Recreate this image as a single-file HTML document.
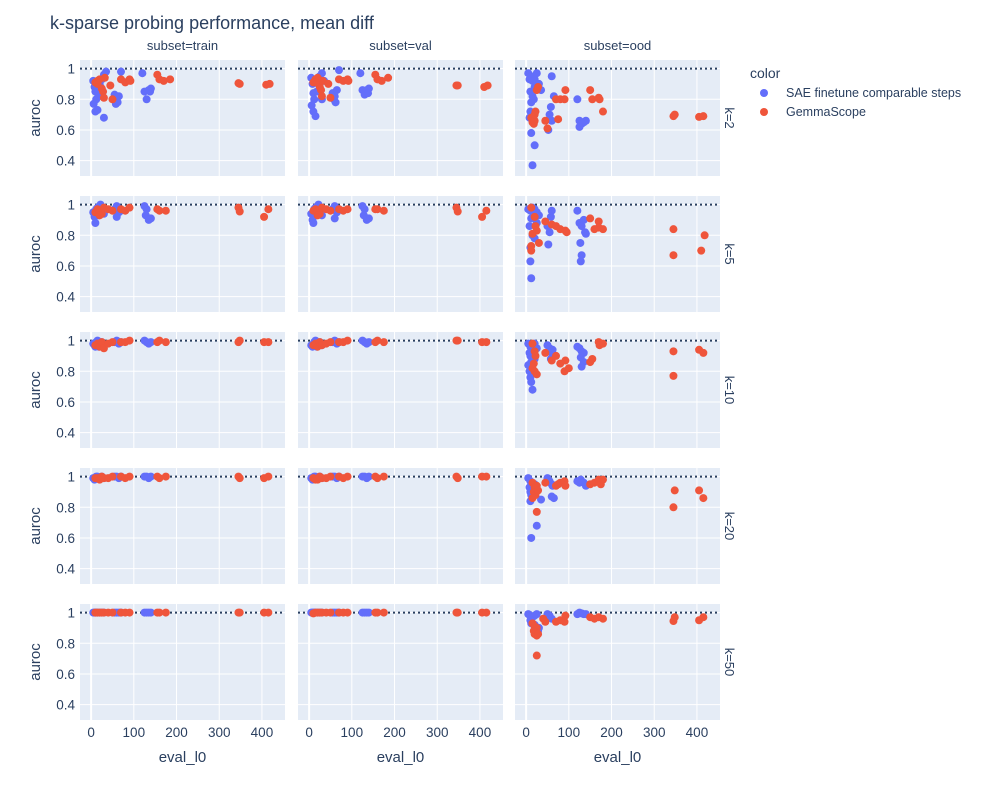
<!DOCTYPE html>
<html><head><meta charset="utf-8"><style>
body{margin:0;background:#fff;font-family:"Liberation Sans",Arial,sans-serif}
svg text{font-family:"Liberation Sans",Arial,sans-serif;fill:#2a3f5f}
</style></head><body>
<svg id="chart" width="1000" height="800" xmlns="http://www.w3.org/2000/svg">
<text x="50" y="29" font-size="18">k-sparse probing performance, mean diff</text>
<text x="750" y="78" font-size="14">color</text>
<g><circle cx="764" cy="93" r="4" fill="#636efa"/><text x="786" y="97" font-size="12.5">SAE finetune comparable steps</text></g>
<g><circle cx="764" cy="112" r="4" fill="#EF553B"/><text x="786" y="116" font-size="12.5">GemmaScope</text></g>
</svg>
<script>
const subsets=["train","val","ood"];
const kValues=[2,5,10,20,50];
const xTicks=[0,100,200,300,400];
const yTicks=[0.4,0.6,0.8,1];
const refLine=1;
// data: [row][col] = [[eval_l0, auroc],...]
const saeTrainK2=[[5,.92],[8,.88],[10,.85],[12,.80],[6,.77],[10,.72],[15,.73],[20,.9],[25,.93],[30,.96],[35,.98],[30,.68],[55,.83],[60,.80],[62,.78],[65,.82],[58,.77],[70,.98],[120,.97],[125,.85],[130,.80],[135,.86],[140,.87],[138,.85],[18,.82],[22,.88]];
const gsTrainK2=[[10,.91],[15,.92],[20,.93],[25,.87],[28,.85],[30,.81],[32,.94],[45,.89],[50,.80],[70,.93],[80,.91],[90,.93],[92,.92],[155,.96],[160,.93],[170,.92],[185,.93],[345,.905],[348,.90],[410,.895],[418,.90],[15,.90]];
const saeValK2=[[5,.94],[8,.90],[10,.84],[12,.80],[6,.76],[10,.72],[15,.69],[20,.92],[25,.95],[30,.97],[35,.92],[30,.80],[55,.84],[60,.82],[62,.78],[65,.86],[58,.80],[70,.99],[120,.97],[125,.86],[130,.83],[135,.86],[140,.87],[138,.84],[18,.85],[22,.90]];
const gsValK2=[[10,.91],[15,.93],[20,.94],[25,.88],[28,.86],[30,.82],[32,.92],[45,.90],[50,.81],[70,.93],[80,.92],[90,.93],[92,.92],[155,.96],[160,.93],[170,.92],[185,.94],[345,.89],[348,.89],[410,.88],[418,.89],[15,.91]];
const saeOodK2=[[5,.97],[8,.93],[12,.95],[15,.92],[20,.93],[10,.85],[15,.82],[12,.78],[18,.80],[10,.72],[8,.68],[12,.58],[20,.50],[15,.37],[30,.90],[35,.86],[60,.95],[65,.82],[58,.75],[55,.70],[60,.66],[52,.60],[120,.80],[125,.66],[130,.64],[135,.65],[140,.66],[125,.62],[20,.88],[25,.97]];
const gsOodK2=[[12,.68],[15,.65],[18,.64],[20,.66],[22,.72],[25,.86],[28,.88],[45,.66],[50,.61],[70,.80],[80,.80],[90,.80],[92,.86],[75,.67],[150,.86],[155,.80],[170,.81],[172,.80],[180,.72],[345,.69],[348,.70],[405,.685],[415,.69],[20,.70]];
const saeTrainK5=[[5,.95],[8,.92],[10,.88],[12,.97],[15,.98],[20,.99],[25,.96],[30,.94],[55,.97],[60,.99],[65,.95],[70,.96],[60,.92],[125,.99],[130,.97],[135,.90],[140,.91],[128,.93],[18,.93],[22,1.0]];
const gsTrainK5=[[10,.95],[15,.97],[20,.96],[25,.94],[30,.98],[40,.97],[50,.96],[70,.97],[80,.96],[90,.98],[155,.97],[160,.96],[175,.96],[345,.98],[348,.955],[405,.92],[415,.97],[20,.93]];
const saeValK5=[[5,.94],[8,.90],[10,.88],[12,.97],[15,.98],[20,.99],[25,.96],[30,.93],[55,.97],[60,.99],[65,.95],[70,.97],[60,.91],[125,.99],[130,.97],[135,.90],[140,.91],[128,.93],[18,.95],[22,1.0]];
const gsValK5=[[10,.96],[15,.97],[20,.96],[25,.94],[30,.98],[40,.97],[50,.96],[70,.97],[80,.96],[90,.97],[155,.97],[160,.97],[175,.96],[345,.98],[348,.955],[405,.92],[415,.96],[20,.93]];
const saeOodK5=[[5,.97],[10,.96],[15,.98],[20,.97],[25,.95],[12,.91],[8,.86],[15,.80],[20,.78],[10,.72],[10,.63],[12,.52],[30,.93],[50,.86],[55,.82],[52,.74],[58,.92],[60,.96],[120,.96],[125,.88],[130,.86],[135,.90],[138,.82],[140,.81],[127,.75],[130,.67],[128,.63],[25,.88]];
const gsOodK5=[[12,.98],[20,.92],[22,.86],[15,.81],[25,.83],[30,.75],[12,.73],[12,.70],[45,.89],[60,.87],[70,.86],[80,.84],[92,.83],[95,.82],[150,.91],[170,.89],[170,.85],[160,.84],[180,.84],[345,.84],[345,.67],[410,.70],[418,.80]];
const saeTrainK10=[[5,.98],[8,.97],[10,.96],[12,.99],[15,1],[20,.98],[25,.99],[30,.97],[55,.99],[60,1],[65,.98],[70,.99],[125,1],[130,.99],[135,.98],[140,.99],[18,.96]];
const gsTrainK10=[[10,.97],[15,.98],[20,.96],[25,.99],[30,.95],[40,.98],[50,.99],[70,.99],[80,.99],[90,1],[155,.99],[160,1],[175,.99],[345,.99],[348,1],[405,.99],[415,.99]];
const saeValK10=[[5,.97],[8,.96],[10,.97],[12,.99],[15,1],[20,.98],[25,.99],[30,.97],[55,.99],[60,1],[65,.98],[70,.99],[125,1],[130,.99],[135,.98],[140,.99],[18,.96]];
const gsValK10=[[10,.97],[15,.98],[20,.96],[25,.99],[30,.97],[40,.98],[50,.99],[70,.99],[80,.99],[90,1],[155,.99],[160,1],[175,.99],[345,1],[348,1],[405,.99],[415,.99]];
const saeOodK10=[[5,.98],[10,.96],[15,.95],[20,.98],[8,.92],[10,.90],[12,.86],[5,.84],[8,.80],[10,.76],[12,.73],[15,.68],[25,.95],[50,.97],[55,.95],[60,.92],[58,.88],[62,.94],[120,.96],[125,.95],[130,.93],[135,.92],[128,.89],[135,.86],[130,.83],[20,.88]];
const gsOodK10=[[15,.98],[20,.93],[22,.90],[18,.85],[15,.82],[20,.80],[25,.78],[45,.92],[60,.87],[70,.90],[80,.85],[90,.80],[92,.87],[100,.82],[150,.86],[155,.88],[170,.99],[172,.97],[180,.98],[345,.93],[345,.77],[405,.94],[415,.92]];
const saeTrainK20=[[5,.99],[8,.98],[10,.99],[12,1],[15,1],[20,.99],[25,1],[30,.99],[55,1],[60,1],[65,.99],[70,1],[125,1],[130,1],[135,.99],[140,1]];
const gsTrainK20=[[10,.99],[15,.99],[20,.98],[25,1],[30,.99],[40,.99],[50,1],[70,1],[80,.99],[90,1],[155,1],[160,.99],[175,1],[345,1],[348,.99],[405,.99],[415,1]];
const saeValK20=[[5,.99],[8,.98],[10,.99],[12,1],[15,1],[20,.99],[25,1],[30,.99],[55,1],[60,1],[65,.99],[70,1],[125,1],[130,1],[135,.99],[140,1]];
const gsValK20=[[10,.99],[15,.98],[20,.98],[25,1],[30,.99],[40,.99],[50,1],[70,1],[80,.99],[90,1],[155,1],[160,.99],[175,1],[345,1],[348,.99],[405,1],[415,1]];
const saeOodK20=[[5,.99],[10,.97],[15,.96],[20,.95],[8,.93],[10,.90],[12,.88],[10,.84],[35,.85],[25,.68],[12,.60],[50,.99],[55,.97],[60,.95],[62,.94],[60,.87],[65,.86],[120,.97],[125,.96],[130,.97],[135,.96],[140,.94],[128,.98]];
const gsOodK20=[[15,.96],[20,.93],[18,.90],[22,.88],[15,.86],[25,.94],[28,.91],[25,.77],[45,.96],[70,.94],[75,.95],[80,.96],[90,.97],[92,.94],[150,.95],[160,.96],[170,.98],[175,.95],[180,.98],[345,.80],[348,.91],[405,.91],[415,.86]];
const saeTrainK50=[[5,1],[8,1],[10,1],[12,1],[15,1],[20,1],[25,1],[30,1],[55,1],[60,1],[65,1],[70,1],[125,1],[130,1],[135,1],[140,1]];
const gsTrainK50=[[10,1],[15,1],[20,1],[25,1],[30,1],[40,1],[50,1],[70,1],[80,1],[90,1],[155,1],[160,1],[175,1],[345,1],[348,1],[405,1],[415,1]];
const saeValK50=[[5,1],[8,1],[10,1],[12,1],[15,1],[20,1],[25,1],[30,1],[55,1],[60,1],[65,1],[70,1],[125,1],[130,1],[135,1],[140,1]];
const gsValK50=[[10,.995],[15,1],[20,1],[25,1],[30,1],[40,1],[50,1],[70,1],[80,1],[90,1],[155,1],[160,1],[175,1],[345,1],[348,1],[405,1],[415,1]];
const saeOodK50=[[5,.99],[10,.98],[15,.97],[20,.98],[25,.99],[10,.95],[12,.93],[20,.92],[30,.90],[28,.88],[50,.99],[55,.98],[60,.96],[120,.99],[125,1.0],[130,.995],[135,.99],[140,.99]];
const gsOodK50=[[15,.93],[20,.91],[25,.90],[18,.88],[20,.86],[25,.85],[28,.86],[25,.72],[40,.96],[45,.94],[70,.94],[80,.95],[90,.94],[92,.98],[150,.97],[160,.96],[170,.97],[180,.96],[345,.945],[348,.97],[405,.95],[415,.97]];
const saeData=[[saeTrainK2,saeValK2,saeOodK2],[saeTrainK5,saeValK5,saeOodK5],[saeTrainK10,saeValK10,saeOodK10],[saeTrainK20,saeValK20,saeOodK20],[saeTrainK50,saeValK50,saeOodK50]];
const gsData=[[gsTrainK2,gsValK2,gsOodK2],[gsTrainK5,gsValK5,gsOodK5],[gsTrainK10,gsValK10,gsOodK10],[gsTrainK20,gsValK20,gsOodK20],[gsTrainK50,gsValK50,gsOodK50]];

const NS="http://www.w3.org/2000/svg";
const svg=document.getElementById("chart");
const colLeft=[80,298,515],PW=205,rowTop=[60,196,332,468,604],PH=116;
const X0=-26,X1=454,Y0=0.3,Y1=1.056;
function xs(c,v){return colLeft[c]+(v-X0)/(X1-X0)*PW;}
function ys(r,v){return rowTop[r]+PH-(v-Y0)/(Y1-Y0)*PH;}
function mk(tag,attrs,parent){const e=document.createElementNS(NS,tag);for(const k in attrs)e.setAttribute(k,attrs[k]);(parent||svg).appendChild(e);return e;}
function txt(s,attrs){const t=mk("text",attrs);t.textContent=s;return t;}
for(let r=0;r<5;r++){for(let c=0;c<3;c++){
  const g=mk("g",{});
  
  
  const bg=mk("rect",{x:colLeft[c],y:rowTop[r],width:PW,height:PH,fill:"#e5ecf6"},g);
  
  
  xTicks.forEach(v=>{const l=mk("line",{x1:xs(c,v),x2:xs(c,v),y1:rowTop[r],y2:rowTop[r]+PH,stroke:"#fff","stroke-width":1},g);
    
    });
  yTicks.forEach(v=>{const l=mk("line",{x1:colLeft[c],x2:colLeft[c]+PW,y1:ys(r,v),y2:ys(r,v),stroke:"#fff","stroke-width":1},g);
    
    });
  const zl=mk("line",{x1:xs(c,0),x2:xs(c,0),y1:rowTop[r],y2:rowTop[r]+PH,stroke:"#fff","stroke-width":2},g);
  
  
  const rl=mk("line",{x1:colLeft[c],x2:colLeft[c]+PW,y1:ys(r,refLine),y2:ys(r,refLine),stroke:"#2a3f5f","stroke-width":2,"stroke-dasharray":"2,3"},g);
  
  
  saeData[r][c].forEach(p=>{const d=mk("circle",{cx:xs(c,p[0]),cy:ys(r,p[1]),r:4,fill:"#636efa"},g);
    
    });
  gsData[r][c].forEach(p=>{const d=mk("circle",{cx:xs(c,p[0]),cy:ys(r,p[1]),r:4,fill:"#EF553B"},g);
    
    });
  if(c===0){
    yTicks.forEach(v=>{const t=txt(v===1?"1":String(v),{x:75,y:ys(r,v)+5,"font-size":13.5,"text-anchor":"end"});
      
      });
    const yt=txt("auroc",{x:0,y:0,"font-size":15,"text-anchor":"middle",transform:`translate(40,${rowTop[r]+PH/2}) rotate(-90)`});
    
    
  }
  if(r===4){
    xTicks.forEach(v=>{const t=txt(String(v),{x:xs(c,v),y:737,"font-size":13.5,"text-anchor":"middle"});
      
      });
    const xt=txt("eval_l0",{x:colLeft[c]+PW/2,y:762,"font-size":15,"text-anchor":"middle"});
    
    
  }
  if(r===0){
    const st=txt("subset="+subsets[c],{x:colLeft[c]+PW/2,y:50,"font-size":13,"text-anchor":"middle"});
    
    
  }
  if(c===2){
    const kt=txt("k="+kValues[r],{x:0,y:0,"font-size":13,"text-anchor":"middle",transform:`translate(725,${rowTop[r]+PH/2}) rotate(90)`});
    
    
  }
}}
</script>
</body></html>
